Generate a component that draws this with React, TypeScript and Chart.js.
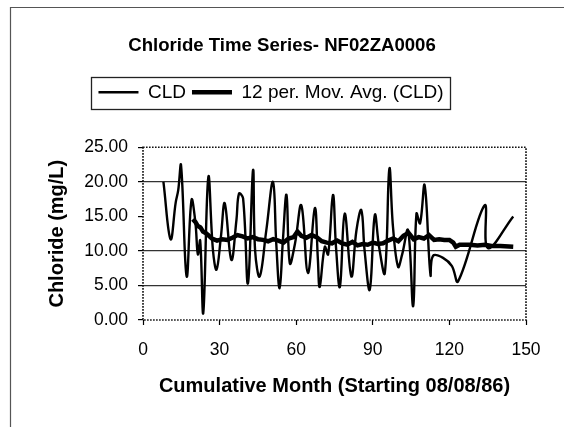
import React, { useEffect, useRef } from "react";
import { Chart, registerables } from "chart.js";

Chart.register(...registerables);

// Chloride (CLD) readings, mg/L, against cumulative month
const CLD_MONTHS = [
  8, 10.8, 12.8, 13.8, 14.9, 17.1, 19, 20.5, 21.5, 22.4, 23.6, 25.6, 27.4, 28.8,
  30.5, 32, 34.6, 36.6, 37.6, 39.2, 41.1, 43.1, 43.9, 45.7, 48.3, 50.9, 52.2,
  53.5, 54.8, 56.2, 57.5, 59.5, 62, 64.6, 67.3, 68.5, 69.2, 71.2, 72.5, 74.4,
  75.6, 77.1, 79, 81.6, 83.6, 85.5, 86.8, 88.8, 90.8, 92.5, 94.7, 96.5, 97.9,
  99.9, 101.5, 103.8, 105.8, 107.1, 108.5, 110.3, 112.6, 113.6, 117.5, 121,
  123.4, 133.8, 135.1, 145,
];
const CLD_VALUES = [
  20.0, 11.7, 17.0, 18.8, 22.4, 6.3, 17.4, 14.2, 9.5, 11.5, 1.0, 20.7, 10.1, 7.3,
  12.0, 16.9, 8.7, 14.5, 18.3, 17.6, 5.3, 21.7, 10.1, 6.3, 13.0, 20.0, 11.0,
  4.6, 11.6, 18.1, 8.2, 11.0, 16.6, 6.8, 16.2, 8.7, 4.8, 10.6, 9.5, 18.1,
  10.5, 4.8, 15.4, 6.3, 13.0, 15.9, 10.0, 4.4, 15.2, 10.5, 6.8, 21.9, 13.5,
  7.7, 9.5, 13.0, 2.0, 15.4, 14.0, 19.5, 6.5, 9.3, 9.0, 7.8,
  5.6, 16.6, 10.4, 15.0,
];

// 12 period moving average of CLD
const MA_MONTHS = [
  19.5, 20.5, 21.5, 22.5, 23.5, 24.5, 25.5, 27, 29, 31, 33, 35, 37, 39, 41, 43,
  45, 47, 49, 51, 53, 55, 57, 59, 60.5, 62, 64, 66, 68, 70, 72, 74, 76, 78, 80,
  82, 84, 86, 88, 90, 92, 94, 96, 98, 100, 102, 104, 106, 108, 110, 112, 114,
  116, 118, 120, 121.5, 122.5, 124, 126, 128, 131, 134, 137, 140, 145,
];
const MA_VALUES = [
  14.6, 14.2, 13.6, 13.4, 12.8, 12.6, 12.3, 11.8, 11.5, 11.7, 11.6, 11.9, 12.3,
  12.1, 11.8, 12.0, 11.7, 11.6, 11.4, 11.7, 11.5, 11.2, 11.8, 12.0, 12.8, 12.2,
  11.9, 12.3, 12.0, 11.4, 11.2, 11.1, 11.5, 11.1, 10.9, 11.3, 10.8, 11.0, 10.9,
  11.2, 11.0, 11.1, 11.5, 11.8, 11.4, 12.2, 12.6, 11.7, 12.0, 11.8, 12.3, 11.6,
  11.7, 11.6, 11.6, 11.2, 10.6, 10.9, 10.9, 10.9, 10.8, 10.9, 10.7, 10.7, 10.6,
];

const X_MIN = 0;
const X_MAX = 150;
const X_STEP = 30;
const Y_MIN = 0;
const Y_MAX = 25;
const Y_STEP = 5;
const Y_GRID_VALUES = [5, 10, 20];

const TITLE = "Chloride Time Series- NF02ZA0006";
const SERIES_LABELS = ["CLD", "12 per. Mov. Avg. (CLD)"];
const X_TITLE = "Cumulative Month (Starting 08/08/86)";
const Y_TITLE = "Chloride (mg/L)";

const FONT = "'Liberation Sans', Arial, Helvetica, sans-serif";

export default function App() {
  const ref = useRef<HTMLCanvasElement | null>(null);

  useEffect(() => {
    document.body.style.margin = "0";
    const canvas = ref.current;
    if (!canvas) return;

    const decorPlugin = {
      id: "decor",
      afterLayout(chart: any) {
        const lg = chart.legend;
        if (lg) {
          lg.left -= 11;
          lg.right -= 11;
        }
      },
      beforeDraw(chart: any) {
        const ctx = chart.ctx;
        ctx.save();
        ctx.fillStyle = "#ffffff";
        ctx.fillRect(0, 0, chart.width, chart.height);
        ctx.strokeStyle = "#555555";
        ctx.lineWidth = 1.2;
        ctx.beginPath();
        ctx.moveTo(10.5, chart.height);
        ctx.lineTo(10.5, 7.5);
        ctx.lineTo(chart.width, 7.5);
        ctx.stroke();
        ctx.restore();
      },
      afterDraw(chart: any) {
        const ctx = chart.ctx;
        const { left, right, top, bottom } = chart.chartArea;
        ctx.save();
        ctx.strokeStyle = "#111111";
        ctx.lineWidth = 1.6;
        ctx.setLineDash([1.6, 1.4]);
        ctx.strokeRect(left, top, right - left, bottom - top);
        ctx.setLineDash([]);
        // legend frame
        const lg = chart.legend;
        if (lg && lg.legendHitBoxes && lg.legendHitBoxes.length) {
          const hb = lg.legendHitBoxes;
          let l = Infinity, r = -Infinity, t = Infinity, b = -Infinity;
          hb.forEach((h: any) => {
            l = Math.min(l, h.left);
            r = Math.max(r, h.left + h.width);
            t = Math.min(t, h.top);
            b = Math.max(b, h.top + h.height);
          });
          ctx.strokeStyle = "#222222";
          ctx.lineWidth = 1.3;
          ctx.strokeRect(Math.round(l - 7) + 0.5, Math.round(t - 6) + 0.5, Math.round(r - l + 14), Math.round(b - t + 13));
        }
        ctx.restore();
      },
    };

    const chart = new Chart(canvas, {
      type: "line",
      data: {
        datasets: [
          {
            label: SERIES_LABELS[0],
            data: CLD_MONTHS.map((m, i) => ({ x: m, y: CLD_VALUES[i] })),
            borderColor: "#000000",
            backgroundColor: "#000000",
            borderWidth: 2.4,
            pointRadius: 0,
            tension: 0.4,
            fill: false,
            order: 2,
          },
          {
            label: SERIES_LABELS[1],
            data: MA_MONTHS.map((m, i) => ({ x: m, y: MA_VALUES[i] })),
            borderColor: "#000000",
            backgroundColor: "#000000",
            borderWidth: 4.5,
            pointRadius: 0,
            tension: 0,
            fill: false,
            order: 1,
          },
        ],
      },
      options: {
        responsive: false,
        animation: false,
        devicePixelRatio: 1,
        layout: { padding: { left: 38, right: 38, top: 0, bottom: 0 } },
        plugins: {
          title: {
            display: true,
            text: TITLE,
            color: "#000000",
            font: { family: FONT, size: 18.6, weight: "bold" },
            padding: { top: 35, bottom: 19.5 },
          },
          legend: {
            display: true,
            position: "top",
            labels: {
              color: "#000000",
              font: { family: FONT, size: 19 },
              usePointStyle: true,
              pointStyle: "line",
              pointStyleWidth: 40,
              padding: 6,
              sort: (a: any, b: any) => a.datasetIndex - b.datasetIndex,
            },
          },
          subtitle: {
            display: true,
            text: "",
            font: { size: 1 },
            padding: { top: 34.3, bottom: 0 },
            weight: 500,
          },
          tooltip: { enabled: false },
        },
        scales: {
          x: {
            type: "linear",
            min: X_MIN,
            max: X_MAX,
            afterFit: (scale: any) => {
              scale.height = 107;
            },
            ticks: {
              stepSize: X_STEP,
              color: "#000000",
              font: { family: FONT, size: 17.5 },
              padding: 15,
              maxRotation: 0,
            },
            grid: {
              drawOnChartArea: false,
              drawTicks: true,
              tickLength: 5,
              tickColor: "#000000",
              tickWidth: 1.2,
            },
            border: { display: false },
            title: {
              display: true,
              text: X_TITLE,
              color: "#000000",
              font: { family: FONT, size: 20, weight: "bold" },
              padding: { top: 0, bottom: 29 },
            },
          },
          y: {
            type: "linear",
            min: Y_MIN,
            max: Y_MAX,
            afterFit: (scale: any) => {
              scale.width = 143 - 38;
            },
            ticks: {
              stepSize: Y_STEP,
              color: "#000000",
              font: { family: FONT, size: 17.5 },
              padding: 10,
              callback: (v: any) => Number(v).toFixed(2),
            },
            grid: {
              color: (ctx: any) =>
                ctx.tick && Y_GRID_VALUES.includes(ctx.tick.value) ? "#333333" : "rgba(0,0,0,0)",
              lineWidth: 1.2,
              drawTicks: true,
              tickLength: 5,
              tickColor: "#000000",
              tickWidth: 1.2,
            },
            border: { display: false },
            title: {
              display: true,
              text: Y_TITLE,
              color: "#000000",
              font: { family: FONT, size: 20, weight: "bold" },
              padding: { top: 7, bottom: 0 },
            },
          },
        },
      },
      plugins: [decorPlugin],
    } as any);

    return () => chart.destroy();
  }, []);

  return (
    <div style={{ position: "absolute", left: 0, top: 0, width: 564, height: 427, background: "#fff" }}>
      <canvas ref={ref} width={564} height={427} style={{ display: "block", width: 564, height: 427 }} />
    </div>
  );
}
